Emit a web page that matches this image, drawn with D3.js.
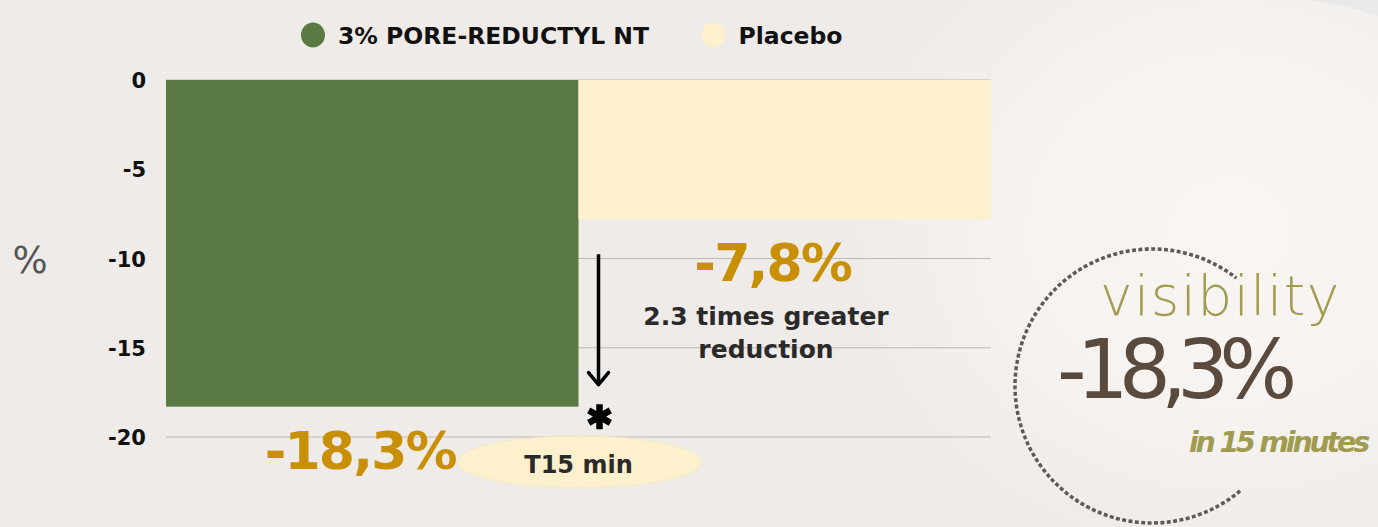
<!DOCTYPE html>
<html>
<head>
<meta charset="utf-8">
<script src="https://cdn.jsdelivr.net/npm/d3@7"></script>
<style>
  html, body { margin: 0; padding: 0; background: #efebe8; }
  svg { display: block; }
  text { font-family: 'DejaVu Sans', sans-serif; }
</style>
</head>
<body>
<div id="chart"></div>
<script>
// data
var series = ['3% PORE-REDUCTYL NT', 'Placebo'];
var values = [-18.3, -7.8];
var colors = ['#5b7a43', '#fdf0cd'];
var yTicks = [0, -5, -10, -15, -20];
var timepoint = 'T15 min';
var calloutTitle = 'visibility';
var calloutNote = 'in 15 minutes';

var width = 1378,
    height = 527,
    svg = d3.select('#chart').append('svg')
        .attr('width', width)
        .attr('height', height);

var fmt = function(v) { return v.toFixed(1).replace('.', ',') + '%'; };

// background glow on the right
var defs = svg.append('defs');
var glow = defs.append('radialGradient')
    .attr('id', 'glow')
    .attr('cx', 0.5).attr('cy', 0.5).attr('r', 0.5);
glow.append('stop').attr('offset', '0%').attr('stop-color', '#f8f5f2');
glow.append('stop').attr('offset', '60%').attr('stop-color', '#f5f2ef');
glow.append('stop').attr('offset', '100%').attr('stop-color', '#efebe8');

svg.append('rect')
    .attr('width', width).attr('height', height)
    .attr('fill', '#efebe8');
svg.append('ellipse')
    .attr('cx', 1230).attr('cy', 230)
    .attr('rx', 380).attr('ry', 330)
    .attr('fill', 'url(#glow)');
svg.append('path')
    .attr('d', 'M1310,0 Q1350,6 1378,16 L1378,0 Z')
    .attr('fill', '#ebe9e7');

var xScale = d3.scaleBand()
        .domain(series)
        .range([166, 991])
        .padding(0),
    yScale = d3.scaleLinear()
        .domain([0, -20])
        .range([80, 437]);

// grid
svg.append('g')
    .selectAll('line')
    .data(yTicks)
    .enter()
    .append('line')
    .attr('x1', 166)
    .attr('x2', 991)
    .attr('y1', function(d) { return yScale(d); })
    .attr('y2', function(d) { return yScale(d); })
    .attr('stroke', '#bdb9b5')
    .attr('stroke-width', 1);

// y axis
var yAxis = d3.axisLeft(yScale)
    .tickValues(yTicks)
    .tickFormat(function(d) { return String(d); })
    .tickSize(0)
    .tickPadding(20);

var yy = svg.append('g')
    .attr('transform', 'translate(166,0)')
    .call(yAxis);
yy.select('.domain').remove();
yy.selectAll('text')
    .attr('font-family', "'DejaVu Sans', sans-serif")
    .attr('font-weight', 'bold')
    .attr('font-size', 21)
    .attr('fill', '#111')
    .attr('dy', '0.36em');

svg.append('text')
    .attr('x', 30)
    .attr('y', 273)
    .attr('text-anchor', 'middle')
    .attr('font-size', 37)
    .attr('fill', '#555')
    .text('%');

// bars
svg.append('g')
    .selectAll('rect')
    .data(values)
    .enter()
    .append('rect')
    .attr('x', function(d, i) { return xScale(series[i]); })
    .attr('y', yScale(0))
    .attr('width', xScale.bandwidth())
    .attr('height', function(d) { return yScale(d) - yScale(0); })
    .attr('fill', function(d, i) { return colors[i]; });

// value labels under each bar
svg.append('g')
    .selectAll('text')
    .data(values)
    .enter()
    .append('text')
    .attr('x', function(d, i) { return xScale(series[i]) + xScale.bandwidth()/2 - 12; })
    .attr('y', function(d) { return yScale(d) + 62; })
    .attr('text-anchor', 'middle')
    .attr('font-weight', 'bold')
    .attr('font-size', 52)
    .attr('letter-spacing', -1.8)
    .attr('fill', '#c98f05')
    .text(function(d) { return fmt(d); });

// arrow from placebo level down to treatment level
var ax = xScale(series[1]) + 20,
    ay1 = yScale(values[1]) + 35,
    ay2 = yScale(values[0]) - 22;
svg.append('line')
    .attr('x1', ax).attr('x2', ax)
    .attr('y1', ay1).attr('y2', ay2 - 1)
    .attr('stroke', '#000')
    .attr('stroke-width', 3.5);
svg.append('path')
    .attr('d', 'M' + (ax - 10) + ',' + (ay2 - 12) + 'L' + ax + ',' + ay2 + 'L' + (ax + 10) + ',' + (ay2 - 12))
    .attr('fill', 'none')
    .attr('stroke', '#000')
    .attr('stroke-width', 3.5)
    .attr('stroke-linecap', 'round')
    .attr('stroke-linejoin', 'round');

svg.append('path')
    .attr('transform', 'translate(' + (ax + 1) + ',' + (yScale(values[0]) + 10) + ')')
    .attr('d', d3.symbol(d3.symbolAsterisk, 440)())
    .attr('fill', 'none')
    .attr('stroke', '#000')
    .attr('stroke-width', 6.5);

// ratio note
var ratio = (values[0] / values[1]).toFixed(1);
var note = svg.append('text')
    .attr('text-anchor', 'middle')
    .attr('font-weight', 'bold')
    .attr('font-size', 25)
    .attr('fill', '#2a2a2a');
note.append('tspan').attr('x', 766).attr('y', 325).text(ratio + ' times greater');
note.append('tspan').attr('x', 766).attr('y', 358).text('reduction');

// time point pill
var cx = (xScale.range()[0] + xScale.range()[1]) / 2;
svg.append('ellipse')
    .attr('cx', cx + 1).attr('cy', 462)
    .attr('rx', 122).attr('ry', 26)
    .attr('fill', '#fdf0cc')
    .attr('stroke', '#f0ebc4')
    .attr('stroke-width', 1);
svg.append('text')
    .attr('x', cx).attr('y', 473)
    .attr('text-anchor', 'middle')
    .attr('font-weight', 'bold')
    .attr('font-size', 24)
    .attr('fill', '#2a2a2a')
    .text(timepoint);

// legend
var legend = svg.append('g')
    .selectAll('g')
    .data(series)
    .enter()
    .append('g')
    .attr('transform', function(d, i) { return 'translate(' + [313, 713.5][i] + ',35)'; });
legend.append('ellipse')
    .attr('rx', 12).attr('ry', 12.5)
    .attr('fill', function(d, i) { return colors[i]; });
legend.append('text')
    .attr('x', 25)
    .attr('y', 8.5)
    .attr('font-weight', 'bold')
    .attr('font-size', 23.5)
    .attr('fill', '#111')
    .text(function(d) { return d; });

// callout on the right
var ccx = 1152, ccy = 386, cr = 137;
svg.append('path')
    .attr('transform', 'translate(' + ccx + ',' + ccy + ')')
    .attr('d', d3.arc()({
        innerRadius: cr, outerRadius: cr,
        startAngle: 140 * Math.PI / 180,
        endAngle: 398 * Math.PI / 180
    }))
    .attr('fill', 'none')
    .attr('stroke', '#5d5a58')
    .attr('stroke-width', 3.5)
    .attr('stroke-dasharray', '3.2 3.2');

svg.append('text')
    .attr('x', 1100).attr('y', 315)
    .attr('font-family', "'Open Sans', sans-serif")
    .attr('font-weight', 300)
    .attr('font-size', 55)
    .attr('letter-spacing', 1.4)
    .attr('fill', '#a09b4e')
    .text(calloutTitle);

svg.append('text')
    .attr('x', 1057).attr('y', 398)
    .attr('font-family', "Inter, sans-serif")
    .attr('font-weight', 500)
    .attr('font-size', 82)
    .attr('letter-spacing', -10)
    .attr('fill', '#5a4a3e')
    .text(fmt(values[0]));

svg.append('text')
    .attr('x', 1189).attr('y', 452)
    .attr('font-family', "'Open Sans', sans-serif")
    .attr('font-style', 'italic')
    .attr('font-weight', 800)
    .attr('font-size', 28.5)
    .attr('letter-spacing', -3.2)
    .attr('fill', '#a09b4e')
    .text(calloutNote);
</script>
</body>
</html>
